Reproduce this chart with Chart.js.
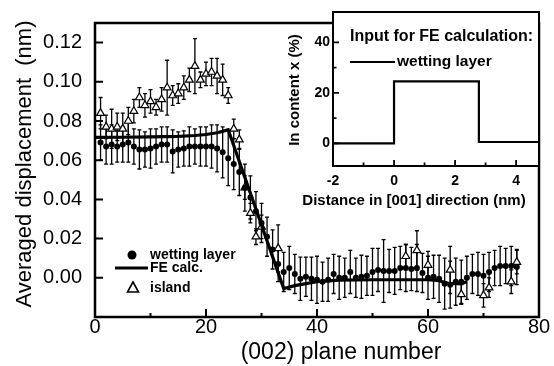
<!DOCTYPE html>
<html><head><meta charset="utf-8">
<script src="https://cdn.jsdelivr.net/npm/chart.js@4.4.1/dist/chart.umd.min.js"></script>
<style>
html,body{margin:0;padding:0;background:#fff;}
#wrap{position:relative;width:554px;height:366px;background:#fff;}
#wrap canvas{position:absolute;left:0;top:0;}
</style></head><body>
<div id="wrap"><canvas id="main" width="554" height="366"></canvas><canvas id="inset" width="554" height="366"></canvas></div>
<script>
// ---------- data ----------
const planeNumbers = [1,2,3,4,5,6,7,8,9,10,11,12,13,14,15,16,17,18,19,20,21,22,23,24,25,26,27,28,29,30,31,32,33,34,35,36,37,38,39,40,41,42,43,44,45,46,47,48,49,50,51,52,53,54,55,56,57,58,59,60,61,62,63,64,65,66,67,68,69,70,71,72,73,74,75,76];
const wettingValues = [0.069,0.067,0.068,0.067,0.068,0.069,0.067,0.0655,0.0655,0.066,0.067,0.068,0.068,0.0645,0.0655,0.066,0.067,0.067,0.067,0.067,
  0.067,0.066,0.064,0.061,0.058,0.054,0.046,0.041,0.034,0.028,0.021,0.0145,0.007,0.003,0.005,0.002,-0.0005,0.0005,-0.0005,-0.001,
  -0.002,-0.001,0.002,0.000,0.000,0.003,0.000,0.0005,0.001,0.003,0.004,0.0035,0.0035,0.0035,0.005,0.005,0.0045,0.005,0.0025,0.000,
  0.0005,-0.0005,-0.003,-0.0035,-0.002,-0.002,0.000,0.002,0.002,0.001,0.003,0.005,0.006,0.006,0.006,0.0055];
const wettingErrors = [0.009,0.009,0.010,0.008,0.009,0.010,0.009,0.010,0.009,0.010,0.009,0.009,0.009,0.011,0.009,0.009,0.010,0.009,0.010,0.010,
  0.011,0.012,0.013,0.014,0.013,0.012,0.012,0.011,0.010,0.010,0.010,0.010,0.009,0.010,0.011,0.010,0.011,0.010,0.011,0.012,
  0.010,0.011,0.010,0.011,0.010,0.011,0.010,0.011,0.010,0.012,0.011,0.016,0.011,0.012,0.011,0.012,0.011,0.012,0.010,0.011,
  0.011,0.012,0.013,0.012,0.012,0.011,0.011,0.010,0.011,0.011,0.010,0.009,0.010,0.009,0.010,0.009];
const islandPlanes = [1,2,3,4,5,6,7,8,9,10,11,12,13,14,15,16,17,18,19,20,21,22,23,24,25,26,27,28,29,30,33,56,58,60,64,66,70,71,75,76];
const islandValues = [0.084,0.077,0.076,0.077,0.076,0.080,0.085,0.092,0.088,0.090,0.087,0.091,0.097,0.093,0.094,0.097,0.101,0.108,0.101,0.104,
  0.105,0.103,0.101,0.093,0.076,0.0705,0.046,0.033,0.021,0.026,0.015,0.011,0.014,0.0065,0.004,-0.0085,-0.009,-0.005,-0.002,0.008];
const islandErrors = [0.008,0.006,0.010,0.007,0.008,0.007,0.006,0.005,0.006,0.006,0.004,0.006,0.014,0.005,0.005,0.006,0.006,0.014,0.004,0.006,
  0.007,0.009,0.008,0.004,0.005,0.005,0.006,0.005,0.004,0.006,0.012,0.006,0.010,0.007,0.012,0.005,0.006,0.005,0.006,0.006];
const feCalcPlanes = [0,5,10,15,18,20,22,23,24,34,36,38,40,44,50,56,60,62,64,66,67];
const feCalcValues = [0.0716,0.0717,0.0719,0.0722,0.0726,0.0731,0.0740,0.0747,0.0755,-0.0055,-0.004,-0.003,-0.002,-0.0012,-0.001,-0.001,-0.001,-0.0015,-0.003,-0.003,-0.002];
const mainXTicks = [0,20,40,60,80];
const mainXMinorTicks = [10,30,50,70];
const mainYTicks = [0,0.02,0.04,0.06,0.08,0.10,0.12];

const insetDistance = [-2,0,0,2.78,2.78,4.75];
const insetInContent = [0,0,24.5,24.5,0.5,0.5];
const insetXTicks = [-2,0,2,4];
const insetXMinorTicks = [-1,1,3];
const insetYTicks = [0,20,40];
const insetYMinorTicks = [10,30];

// ---------- helpers ----------
const FONT = "'Liberation Sans', Arial, Helvetica, sans-serif";
const pts = (xs, ys) => xs.map((x, i) => ({x, y: ys[i]}));

const errorBarPlugin = {
  id: 'errorBars',
  beforeDatasetsDraw(chart) {
    const ctx = chart.ctx, ys = chart.scales.y;
    chart.data.datasets.forEach((ds, i) => {
      if (!ds.errors) return;
      const meta = chart.getDatasetMeta(i);
      ctx.save();
      ctx.strokeStyle = '#000'; ctx.lineWidth = 1.3;
      meta.data.forEach((pt, j) => {
        const v = ds.data[j].y, e = ds.errors[j];
        const t = ys.getPixelForValue(v + e), b = ys.getPixelForValue(v - e);
        ctx.beginPath();
        ctx.moveTo(pt.x, t); ctx.lineTo(pt.x, b);
        ctx.moveTo(pt.x - 2, t); ctx.lineTo(pt.x + 2, t);
        ctx.moveTo(pt.x - 2, b); ctx.lineTo(pt.x + 2, b);
        ctx.stroke();
      });
      ctx.restore();
    });
  }
};

const framePlugin = {
  id: 'frame',
  beforeDraw(chart, args, o) {
    if (!o.fill) return;
    const a = chart.chartArea, ctx = chart.ctx;
    ctx.save(); ctx.fillStyle = '#fff';
    ctx.fillRect(a.left, a.top, a.right - a.left, a.bottom - a.top);
    ctx.restore();
  },
  afterDraw(chart, args, o) {
    const {ctx, chartArea: a, scales: {x, y}} = chart;
    ctx.save();
    ctx.strokeStyle = '#000';
    ctx.lineWidth = o.lw;
    ctx.strokeRect(a.left, a.top, a.right - a.left, a.bottom - a.top);
    ctx.lineWidth = o.tw;
    ctx.beginPath();
    o.xMajor.forEach(v => { const p = x.getPixelForValue(v); ctx.moveTo(p, a.bottom); ctx.lineTo(p, a.bottom - o.major); });
    o.xMinor.forEach(v => { const p = x.getPixelForValue(v); ctx.moveTo(p, a.bottom); ctx.lineTo(p, a.bottom - o.minor); });
    o.yMajor.forEach(v => { const p = y.getPixelForValue(v); ctx.moveTo(a.left, p); ctx.lineTo(a.left + o.major, p); });
    o.yMinor.forEach(v => { const p = y.getPixelForValue(v); ctx.moveTo(a.left, p); ctx.lineTo(a.left + o.minor, p); });
    ctx.stroke();
    // titles & notes
    ctx.fillStyle = '#000';
    (o.texts || []).forEach(t => {
      ctx.save();
      ctx.font = t.font;
      ctx.textAlign = t.align || 'center';
      ctx.textBaseline = 'middle';
      ctx.translate(t.x, t.y);
      if (t.rot) ctx.rotate(t.rot);
      ctx.fillText(t.text, 0, 0);
      ctx.restore();
    });
    ctx.restore();
  }
};

const mainLegendPlugin = {
  id: 'mainLegend',
  afterDraw(chart) {
    const ctx = chart.ctx;
    ctx.save();
    ctx.fillStyle = '#000'; ctx.strokeStyle = '#000';
    // circle
    ctx.beginPath(); ctx.arc(132, 255, 4.5, 0, Math.PI * 2); ctx.fill();
    // line
    ctx.lineWidth = 3.2; ctx.beginPath(); ctx.moveTo(115, 268); ctx.lineTo(148, 268); ctx.stroke();
    // triangle
    ctx.lineWidth = 1.6; ctx.beginPath();
    ctx.moveTo(133, 282); ctx.lineTo(138.5, 292); ctx.lineTo(127.5, 292); ctx.closePath(); ctx.stroke();
    ctx.font = 'bold 14px ' + FONT; ctx.textBaseline = 'middle'; ctx.textAlign = 'left';
    ctx.fillText('wetting layer', 150, 255);
    ctx.fillText('FE calc.', 150, 268);
    ctx.fillText('island', 150, 288);
    ctx.restore();
  }
};

// ---------- main chart ----------
new Chart(document.getElementById('main'), {
  type: 'scatter',
  data: {
    datasets: [
      { label: 'FE calc.', data: pts(feCalcPlanes, feCalcValues), showLine: true, borderColor: '#000', borderWidth: 3.2,
        pointRadius: 0, tension: 0, order: 1 },
      { label: 'wetting layer', data: pts(planeNumbers, wettingValues), errors: wettingErrors, showLine: false,
        pointStyle: 'circle', pointRadius: 3, backgroundColor: '#000', borderColor: '#000', borderWidth: 0, order: 2 },
      { label: 'island', data: pts(islandPlanes, islandValues), errors: islandErrors, showLine: false,
        pointStyle: 'triangle', pointRadius: 4.5, backgroundColor: '#fff', borderColor: '#000', borderWidth: 1.2, order: 3 }
    ]
  },
  options: {
    responsive: false, animation: false, devicePixelRatio: 1,
    layout: { padding: { top: 12, right: 15, left: 0, bottom: 0 } },
    plugins: {
      legend: { display: false }, tooltip: { enabled: false },
      frame: { lw: 2.5, tw: 2, major: 8, minor: 4,
        xMajor: mainXTicks, xMinor: mainXMinorTicks, yMajor: mainYTicks, yMinor: [],
        texts: [
          { text: '(002) plane number', x: 341, y: 353, font: '23px ' + FONT },
          { text: 'Averaged displacement  (nm)', x: 25, y: 164, rot: -Math.PI / 2, font: '22px ' + FONT }
        ] }
    },
    scales: {
      x: { type: 'linear', min: 0, max: 80,
        afterFit(s) { s.height = 49; },
        afterBuildTicks(s) { s.ticks = mainXTicks.map(v => ({ value: v })); },
        grid: { display: false, drawTicks: false }, border: { display: false },
        ticks: { padding: 0, autoSkip: false, maxRotation: 0, color: '#000', font: { family: FONT, size: 20, lineHeight: 1 },
          callback: v => String(v) } },
      y: { type: 'linear', min: -0.02, max: 0.13,
        afterFit(s) { s.width = 95; },
        afterBuildTicks(s) { s.ticks = mainYTicks.map(v => ({ value: v })); },
        grid: { display: false, drawTicks: false }, border: { display: false },
        ticks: { padding: 13, autoSkip: false, color: '#000', font: { family: FONT, size: 20, lineHeight: 1 },
          callback: v => Number(v).toFixed(2) } }
    }
  },
  plugins: [errorBarPlugin, framePlugin, mainLegendPlugin]
});

// ---------- inset chart ----------
const insetNotePlugin = {
  id: 'insetNote',
  afterDraw(chart) {
    const ctx = chart.ctx;
    ctx.save();
    ctx.fillStyle = '#000'; ctx.strokeStyle = '#000';
    ctx.font = 'bold 16px ' + FONT; ctx.textBaseline = 'middle'; ctx.textAlign = 'left';
    ctx.fillText('Input for FE calculation:', 350, 37);
    ctx.lineWidth = 2; ctx.beginPath(); ctx.moveTo(350, 62); ctx.lineTo(395, 62); ctx.stroke();
    ctx.font = 'bold 15.5px ' + FONT;
    ctx.fillText('wetting layer', 397, 62);
    ctx.restore();
  }
};

new Chart(document.getElementById('inset'), {
  type: 'scatter',
  data: {
    datasets: [
      { label: 'wetting layer', data: pts(insetDistance, insetInContent), showLine: true, borderColor: '#000', borderWidth: 2.2,
        pointRadius: 0, tension: 0 }
    ]
  },
  options: {
    responsive: false, animation: false, devicePixelRatio: 1,
    layout: { padding: { top: 12, right: 15, left: 0, bottom: 0 } },
    plugins: {
      legend: { display: false }, tooltip: { enabled: false },
      frame: { fill: true, lw: 2, tw: 1.8, major: 6, minor: 3.5,
        xMajor: insetXTicks, xMinor: insetXMinorTicks, yMajor: insetYTicks, yMinor: insetYMinorTicks,
        texts: [
          { text: 'Distance in [001] direction (nm)', x: 414, y: 201, font: 'bold 15px ' + FONT },
          { text: 'In content x (%)', x: 295, y: 90, rot: -Math.PI / 2, font: 'bold 15px ' + FONT }
        ] }
    },
    scales: {
      x: { type: 'linear', min: -2, max: 4.75,
        afterFit(s) { s.height = 200; },
        afterBuildTicks(s) { s.ticks = insetXTicks.map(v => ({ value: v })); },
        grid: { display: false, drawTicks: false }, border: { display: false },
        ticks: { padding: 8, autoSkip: false, maxRotation: 0, color: '#000', font: { family: FONT, size: 14, weight: 'bold', lineHeight: 1 },
          callback: v => String(v) } },
      y: { type: 'linear', min: -9, max: 52,
        afterFit(s) { s.width = 333; },
        afterBuildTicks(s) { s.ticks = insetYTicks.map(v => ({ value: v })); },
        grid: { display: false, drawTicks: false }, border: { display: false },
        ticks: { padding: 3, autoSkip: false, color: '#000', font: { family: FONT, size: 14, weight: 'bold', lineHeight: 1 },
          callback: v => String(v) } }
    }
  },
  plugins: [framePlugin, insetNotePlugin]
});
</script>
</body></html>
